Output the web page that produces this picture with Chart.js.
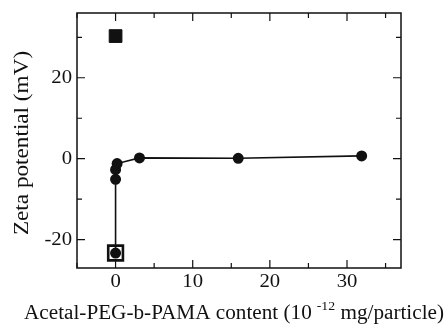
<!DOCTYPE html>
<html>
<head>
<meta charset="utf-8">
<script src="https://cdn.jsdelivr.net/npm/chart.js@4.4.1/dist/chart.umd.min.js"></script>
<style>
  html, body { margin: 0; padding: 0; background: #fff; }
  #wrap { width: 448px; height: 327px; }
</style>
</head>
<body>
<div id="wrap"><canvas id="chart" width="448" height="327"></canvas></div>
<script>
/* =====================
   DATA
===================== */
const contentX = [0, 0, 0, 0.2, 3.1, 15.9, 31.9];
const zetaY = [-23.3, -5.1, -2.7, -1.2, 0.2, 0.1, 0.7];

const filledSquareX = [0];
const filledSquareY = [30.3];

const openSquareX = [0];
const openSquareY = [-23.3];

const xMajor = [0, 10, 20, 30];
const xMinor = [-5, 5, 15, 25, 35];
const yMajor = [-20, 0, 20];
const yMinor = [-10, 10, 30];

const xTitle = "Acetal-PEG-b-PAMA content (10";
const xTitleSup = "-12";
const xTitleEnd = " mg/particle)";
const yTitle = "Zeta potential (mV)";

const FONT = "'Liberation Serif', 'Times New Roman', serif";
const INK = "#111";

const toPts = (xs, ys) => xs.map((x, i) => ({ x, y: ys[i] }));

/* =====================
   HELPER: stretched text (scan fonts look wide)
===================== */
function text(ctx, str, x, y, size, sx, align, base) {
  ctx.save();
  ctx.translate(x, y);
  ctx.scale(sx, 1);
  ctx.font = size + "px " + FONT;
  ctx.textAlign = align;
  ctx.textBaseline = base;
  ctx.fillText(str, 0, 0);
  ctx.restore();
}

function textWidth(ctx, str, size, sx) {
  ctx.font = size + "px " + FONT;
  return ctx.measureText(str).width * sx;
}

/* =====================
   PLUGIN: frame, inside ticks, labels, titles
===================== */
const framePlugin = {
  id: "frame",
  afterDatasetsDraw(chart) {
    const { ctx, chartArea: a, scales } = chart;
    const xs = scales.x, ys = scales.y;
    ctx.save();
    ctx.strokeStyle = INK;
    ctx.fillStyle = INK;
    ctx.lineWidth = 1.5;
    ctx.strokeRect(a.left, a.top, a.right - a.left, a.bottom - a.top);

    ctx.lineWidth = 1.2;
    const tickX = (v, len) => {
      const px = xs.getPixelForValue(v);
      ctx.beginPath();
      ctx.moveTo(px, a.bottom); ctx.lineTo(px, a.bottom - len);
      ctx.moveTo(px, a.top); ctx.lineTo(px, a.top + len);
      ctx.stroke();
    };
    const tickY = (v, len) => {
      const py = ys.getPixelForValue(v);
      ctx.beginPath();
      ctx.moveTo(a.left, py); ctx.lineTo(a.left + len, py);
      ctx.moveTo(a.right, py); ctx.lineTo(a.right - len, py);
      ctx.stroke();
    };
    xMajor.forEach(v => tickX(v, 8));
    xMinor.forEach(v => tickX(v, 5));
    yMajor.forEach(v => tickY(v, 8));
    yMinor.forEach(v => tickY(v, 5));

    // tick labels
    xMajor.forEach(v => text(ctx, String(v), xs.getPixelForValue(v), 287, 18, 1.15, "center", "alphabetic"));
    yMajor.forEach(v => text(ctx, String(v), a.left - 5, ys.getPixelForValue(v) + 1, 18, 1.15, "right", "middle"));

    // x title with superscript
    const S = 20, SX = 1.06, SS = 13;
    const w1 = textWidth(ctx, xTitle, S, SX);
    const w2 = textWidth(ctx, xTitleSup, SS, SX);
    const w3 = textWidth(ctx, xTitleEnd, S, SX);
    const gap = 5;
    const x0 = 234 - (w1 + gap + w2 + w3) / 2;
    const base = 319;
    text(ctx, xTitle, x0, base, S, SX, "left", "alphabetic");
    text(ctx, xTitleSup, x0 + w1 + gap, base - 9, SS, SX, "left", "alphabetic");
    text(ctx, xTitleEnd, x0 + w1 + gap + w2, base, S, SX, "left", "alphabetic");

    // y title
    ctx.save();
    ctx.translate(23, 143);
    ctx.rotate(-Math.PI / 2);
    text(ctx, yTitle, 0, 0, 20, 1.16, "center", "middle");
    ctx.restore();

    ctx.restore();
  }
};

/* =====================
   CHART
===================== */
new Chart(document.getElementById("chart"), {
  type: "scatter",
  data: {
    datasets: [
      {
        data: toPts(contentX, zetaY),
        showLine: true,
        borderColor: INK,
        borderWidth: 1.6,
        pointBackgroundColor: INK,
        pointBorderColor: INK,
        pointRadius: 4.7,
        pointHoverRadius: 4.7,
        tension: 0
      },
      {
        data: toPts(filledSquareX, filledSquareY),
        pointStyle: "rect",
        pointBackgroundColor: INK,
        pointBorderColor: INK,
        pointBorderWidth: 1,
        pointRadius: 9,
        pointHoverRadius: 9
      },
      {
        data: toPts(openSquareX, openSquareY),
        pointStyle: "rect",
        pointBackgroundColor: "rgba(0,0,0,0)",
        pointBorderColor: INK,
        pointBorderWidth: 2.6,
        pointRadius: 10.4,
        pointHoverRadius: 10.4
      }
    ]
  },
  options: {
    responsive: false,
    animation: false,
    events: [],
    layout: { padding: { left: 0, top: 12, right: 47, bottom: 0 } },
    plugins: {
      legend: { display: false },
      tooltip: { enabled: false }
    },
    scales: {
      x: {
        type: "linear",
        min: -5,
        max: 37,
        afterFit: s => { s.height = 59; },
        grid: { display: false, drawTicks: false },
        border: { display: false },
        ticks: { display: false }
      },
      y: {
        type: "linear",
        min: -27,
        max: 36,
        afterFit: s => { s.width = 77; },
        grid: { display: false, drawTicks: false },
        border: { display: false },
        ticks: { display: false }
      }
    }
  },
  plugins: [framePlugin]
});
</script>
</body>
</html>
